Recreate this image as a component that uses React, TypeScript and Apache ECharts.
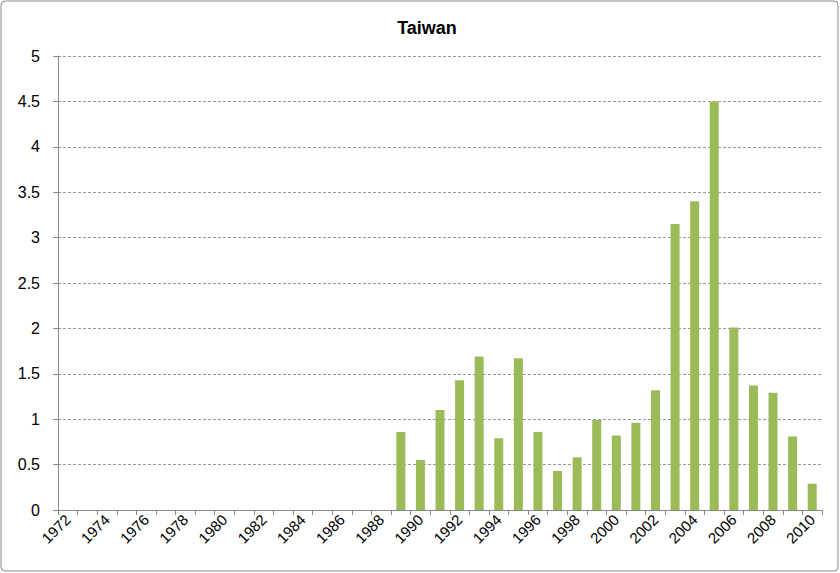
import React, { useEffect, useRef } from "react";
import * as echarts from "echarts";

const years: string[] = [];
for (let y = 1972; y <= 2010; y++) years.push(String(y));

const startYear = 1989;
const values = [
  0.86, 0.55, 1.1, 1.43, 1.69, 0.79, 1.67, 0.86, 0.43, 0.58, 0.99, 0.82,
  0.96, 1.32, 3.15, 3.4, 4.5, 2.01, 1.37, 1.29, 0.81, 0.29,
];

const yTicks = [0, 0.5, 1, 1.5, 2, 2.5, 3, 3.5, 4, 4.5, 5];

export default function App() {
  const ref = useRef<HTMLDivElement>(null);
  useEffect(() => {
    if (!ref.current) return;
    const chart = echarts.init(ref.current, undefined, { renderer: "svg" });
    const data = years.map((y) => {
      const i = Number(y) - startYear;
      return i >= 0 && i < values.length ? values[i] : null;
    });
    chart.setOption({
      animation: false,
      title: {
        text: "Taiwan",
        left: 422,
        textAlign: "center",
        top: 14,
        textStyle: {
          fontFamily: "Liberation Sans",
          fontWeight: "bold",
          fontSize: 18,
          color: "#000",
        },
      },
      graphic: [
        {
          type: "rect",
          shape: { x: 1, y: 1, width: 837, height: 570, r: 4 },
          style: { fill: "none", stroke: "#888", lineWidth: 1 },
          silent: true,
        },
      ],
      grid: { left: 58, right: 18, top: 56, bottom: 63 },
      xAxis: {
        type: "category",
        data: years,
        boundaryGap: true,
        axisLine: { lineStyle: { color: "#888" } },
        axisTick: { show: true, alignWithLabel: false, interval: 0, length: 5, lineStyle: { color: "#888" } },
        axisLabel: {
          interval: 1,
          rotate: 45,
          fontFamily: "Liberation Sans",
          fontSize: 15,
          color: "#000",
          margin: 7,
        },
        splitLine: { show: false },
      },
      yAxis: {
        type: "value",
        min: 0,
        max: 5,
        interval: 0.5,
        axisLine: { show: true, lineStyle: { color: "#888" } },
        axisTick: { show: true, length: 5, lineStyle: { color: "#888" } },
        axisLabel: {
          fontFamily: "Liberation Sans",
          fontSize: 16,
          color: "#000",
          margin: 18,
          formatter: (v: number) => (yTicks.includes(v) ? String(v) : ""),
        },
        splitLine: { show: true, lineStyle: { color: "#999", type: [3, 2], width: 1 } },
      },
      series: [
        {
          type: "bar",
          data,
          barWidth: 9,
          itemStyle: { color: "#9BBB59" },
        },
      ],
    });
    return () => chart.dispose();
  }, []);
  return (
    <div
      ref={ref}
      style={{ position: "fixed", left: 0, top: 0, width: 840, height: 573, background: "#fff" }}
    />
  );
}
